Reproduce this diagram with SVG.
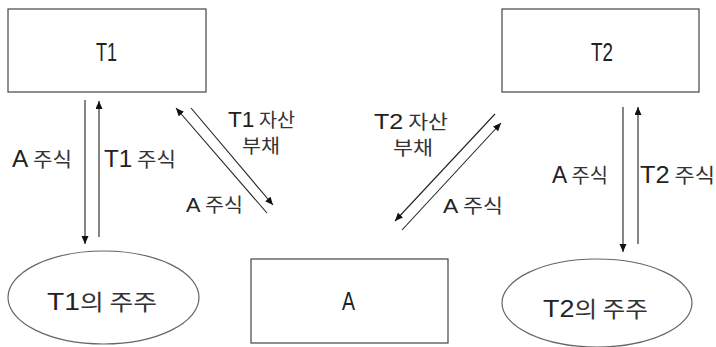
<svg xmlns="http://www.w3.org/2000/svg" width="716" height="347" viewBox="0 0 716 347">
<style>
text{font-family:"Liberation Sans","Noto Sans CJK KR",sans-serif;fill:#222;}
.l{font-size:23px;}
.k{font-family:"Noto Sans CJK KR","Liberation Sans",sans-serif;fill:#333;}
.box{fill:#fff;stroke:#444;stroke-width:1.2;}
.ell{fill:#fff;stroke:#666;stroke-width:1.2;}
.c line{stroke:#222;stroke-width:1.1;}
</style>
<defs>
<marker id="ah" markerUnits="userSpaceOnUse" markerWidth="9" markerHeight="8" refX="8" refY="3.5" orient="auto">
<path d="M0,0 L8,3.5 L0,7 z" fill="#111"/>
</marker>
</defs>
<rect width="716" height="347" fill="#fff"/>
<g id="T1"><rect class="box" x="8" y="9" width="198" height="83"/><text class="l" x="96" y="61" style="font-size:25px" textLength="21" lengthAdjust="spacingAndGlyphs">T1</text></g>
<g id="T2"><rect class="box" x="502" y="9" width="197" height="83"/><text class="l" x="591" y="61" style="font-size:25px" textLength="22" lengthAdjust="spacingAndGlyphs">T2</text></g>
<g id="A"><rect class="box" x="251" y="259" width="197" height="84"/><text class="l" x="342" y="310" style="font-size:25px" textLength="13" lengthAdjust="spacingAndGlyphs">A</text></g>
<g id="T1holders"><ellipse class="ell" cx="103.5" cy="297.5" rx="95.5" ry="46.5"/><text x="47" y="310" textLength="110" lengthAdjust="spacingAndGlyphs"><tspan class="l" style="font-size:24px">T1</tspan><tspan class="k" style="font-size:22px">의 주주</tspan></text></g>
<g id="T2holders"><ellipse class="ell" cx="597" cy="303" rx="95" ry="44"/><text x="543" y="317" textLength="105" lengthAdjust="spacingAndGlyphs"><tspan class="l" style="font-size:24px">T2</tspan><tspan class="k" style="font-size:22px">의 주주</tspan></text></g>
<g id="connectors" class="c">
<line x1="85" y1="100" x2="85" y2="244" marker-end="url(#ah)"/>
<line x1="99" y1="237" x2="99" y2="101" marker-end="url(#ah)"/>
<line x1="267" y1="213" x2="176" y2="108" marker-end="url(#ah)"/>
<line x1="191" y1="108" x2="273" y2="205" marker-end="url(#ah)"/>
<line x1="495" y1="114" x2="395" y2="221" marker-end="url(#ah)"/>
<line x1="402" y1="230" x2="501" y2="123" marker-end="url(#ah)"/>
<line x1="623" y1="107" x2="623" y2="252" marker-end="url(#ah)"/>
<line x1="638" y1="244" x2="638" y2="107" marker-end="url(#ah)"/>
</g>
<g id="labels">
<text x="12" y="167" textLength="60" lengthAdjust="spacingAndGlyphs"><tspan class="l">A</tspan><tspan class="k" style="font-size:20px"> 주식</tspan></text>
<text x="104" y="167" textLength="72" lengthAdjust="spacingAndGlyphs"><tspan class="l">T1</tspan><tspan class="k" style="font-size:20px"> 주식</tspan></text>
<text x="228" y="127" textLength="67" lengthAdjust="spacingAndGlyphs"><tspan class="l" style="font-size:22px">T1</tspan><tspan class="k" style="font-size:19px"> 자산</tspan></text>
<text class="k" x="242" y="153" style="font-size:19px" textLength="38" lengthAdjust="spacingAndGlyphs">부채</text>
<text x="186" y="212" textLength="57" lengthAdjust="spacingAndGlyphs"><tspan class="l" style="font-size:20px">A</tspan><tspan class="k" style="font-size:19px"> 주식</tspan></text>
<text x="374" y="129" textLength="74" lengthAdjust="spacingAndGlyphs"><tspan class="l" style="font-size:22px">T2</tspan><tspan class="k" style="font-size:19px"> 자산</tspan></text>
<text class="k" x="393" y="155" style="font-size:19px" textLength="40" lengthAdjust="spacingAndGlyphs">부채</text>
<text x="443" y="213" textLength="60" lengthAdjust="spacingAndGlyphs"><tspan class="l" style="font-size:20px">A</tspan><tspan class="k" style="font-size:19px"> 주식</tspan></text>
<text x="552" y="183" textLength="56" lengthAdjust="spacingAndGlyphs"><tspan class="l">A</tspan><tspan class="k" style="font-size:20px"> 주식</tspan></text>
<text x="640" y="183" textLength="75" lengthAdjust="spacingAndGlyphs"><tspan class="l">T2</tspan><tspan class="k" style="font-size:20px"> 주식</tspan></text>
</g>
</svg>
